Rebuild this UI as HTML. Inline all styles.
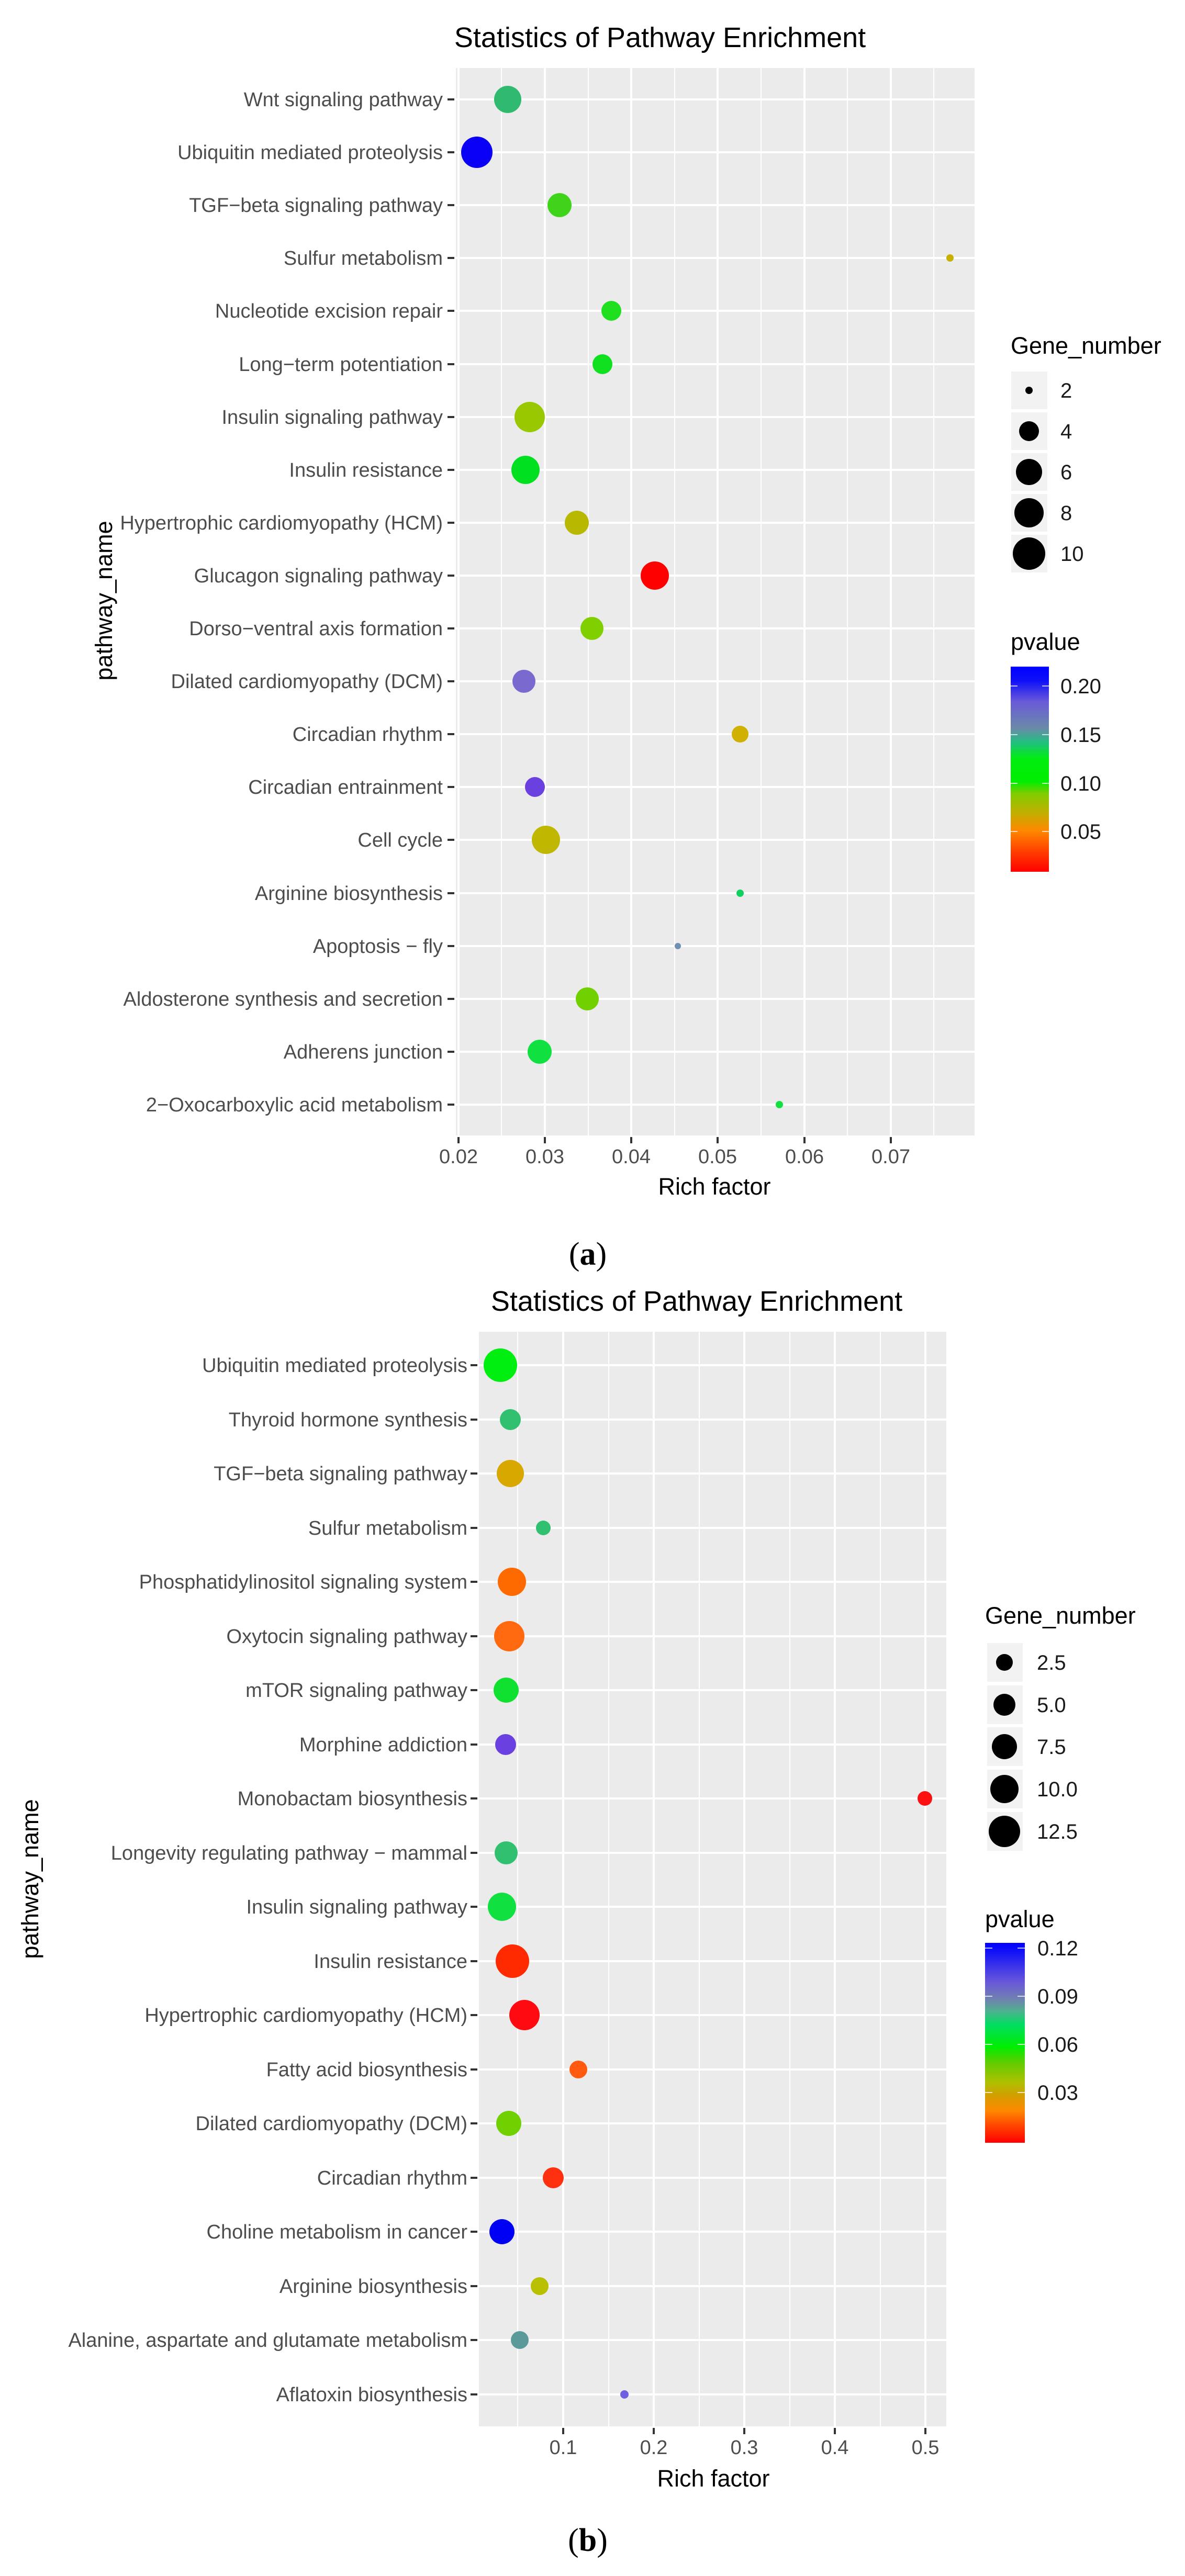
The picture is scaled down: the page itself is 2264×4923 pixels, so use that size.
<!DOCTYPE html>
<html><head><meta charset="utf-8"><style>
html,body{margin:0;padding:0;background:#fff}
svg{display:block}
text{font-family:"Liberation Sans",sans-serif}
.yl{font-size:38px;fill:#4d4d4d;text-anchor:end}
.xl{font-size:38px;fill:#4d4d4d;text-anchor:middle}
.tt{font-size:54px;fill:#000;text-anchor:middle}
.at{font-size:45px;fill:#000;text-anchor:middle}
.lt{font-size:45px;fill:#000}
.ll{font-size:40px;fill:#1a1a1a}
.cap{font-family:"Liberation Serif",serif;font-size:62px;text-anchor:middle}
.gM{stroke:#fff;stroke-width:4}
.gm{stroke:#fff;stroke-width:2}
.tk{stroke:#333;stroke-width:4}
</style></head><body>
<svg width="2264" height="4923" viewBox="0 0 2264 4923" xmlns="http://www.w3.org/2000/svg">
<defs>
<linearGradient id="ga" x1="0" y1="0" x2="0" y2="1">
<stop offset="0" stop-color="#0000ff"/><stop offset="0.07" stop-color="#1010f8"/>
<stop offset="0.17" stop-color="#6a5ad8"/><stop offset="0.3" stop-color="#6a8aa8"/>
<stop offset="0.37" stop-color="#20c080"/><stop offset="0.45" stop-color="#00ee10"/>
<stop offset="0.56" stop-color="#00ee00"/><stop offset="0.62" stop-color="#80cc00"/>
<stop offset="0.71" stop-color="#c0b000"/><stop offset="0.8" stop-color="#ff8800"/>
<stop offset="0.9" stop-color="#ff4000"/><stop offset="1" stop-color="#ff0000"/>
</linearGradient>
<linearGradient id="gb" x1="0" y1="0" x2="0" y2="1">
<stop offset="0" stop-color="#0000ff"/><stop offset="0.04" stop-color="#1010f8"/>
<stop offset="0.2" stop-color="#6a5ad8"/><stop offset="0.28" stop-color="#7080b0"/>
<stop offset="0.34" stop-color="#50b090"/><stop offset="0.41" stop-color="#00dd60"/>
<stop offset="0.52" stop-color="#00ee00"/><stop offset="0.6" stop-color="#60cc00"/>
<stop offset="0.7" stop-color="#b0c000"/><stop offset="0.76" stop-color="#d0a000"/>
<stop offset="0.84" stop-color="#ff8800"/><stop offset="0.92" stop-color="#ff4000"/>
<stop offset="1" stop-color="#ff0000"/>
</linearGradient>
</defs>

<!-- ===== Chart A ===== -->
<text class="tt" x="1261" y="90">Statistics of Pathway Enrichment</text>
<rect x="871" y="130" width="991" height="2040" fill="#ebebeb"/>
<g class="gm">
<line x1="958" y1="130" x2="958" y2="2170"/><line x1="1124" y1="130" x2="1124" y2="2170"/>
<line x1="1289" y1="130" x2="1289" y2="2170"/><line x1="1454" y1="130" x2="1454" y2="2170"/>
<line x1="1619" y1="130" x2="1619" y2="2170"/><line x1="1784" y1="130" x2="1784" y2="2170"/>
</g>
<g class="gM">
<line x1="876" y1="130" x2="876" y2="2170"/><line x1="1041" y1="130" x2="1041" y2="2170"/>
<line x1="1206" y1="130" x2="1206" y2="2170"/><line x1="1371" y1="130" x2="1371" y2="2170"/>
<line x1="1537" y1="130" x2="1537" y2="2170"/><line x1="1702" y1="130" x2="1702" y2="2170"/>
<line x1="871" y1="190" x2="1862" y2="190"/><line x1="871" y1="291" x2="1862" y2="291"/>
<line x1="871" y1="392" x2="1862" y2="392"/><line x1="871" y1="493" x2="1862" y2="493"/>
<line x1="871" y1="594" x2="1862" y2="594"/><line x1="871" y1="696" x2="1862" y2="696"/>
<line x1="871" y1="797" x2="1862" y2="797"/><line x1="871" y1="898" x2="1862" y2="898"/>
<line x1="871" y1="999" x2="1862" y2="999"/><line x1="871" y1="1100" x2="1862" y2="1100"/>
<line x1="871" y1="1201" x2="1862" y2="1201"/><line x1="871" y1="1302" x2="1862" y2="1302"/>
<line x1="871" y1="1403" x2="1862" y2="1403"/><line x1="871" y1="1504" x2="1862" y2="1504"/>
<line x1="871" y1="1605" x2="1862" y2="1605"/><line x1="871" y1="1707" x2="1862" y2="1707"/>
<line x1="871" y1="1808" x2="1862" y2="1808"/><line x1="871" y1="1909" x2="1862" y2="1909"/>
<line x1="871" y1="2010" x2="1862" y2="2010"/><line x1="871" y1="2111" x2="1862" y2="2111"/>
</g>
<g class="tk">
<line x1="855" y1="190" x2="868" y2="190"/><line x1="855" y1="291" x2="868" y2="291"/>
<line x1="855" y1="392" x2="868" y2="392"/><line x1="855" y1="493" x2="868" y2="493"/>
<line x1="855" y1="594" x2="868" y2="594"/><line x1="855" y1="696" x2="868" y2="696"/>
<line x1="855" y1="797" x2="868" y2="797"/><line x1="855" y1="898" x2="868" y2="898"/>
<line x1="855" y1="999" x2="868" y2="999"/><line x1="855" y1="1100" x2="868" y2="1100"/>
<line x1="855" y1="1201" x2="868" y2="1201"/><line x1="855" y1="1302" x2="868" y2="1302"/>
<line x1="855" y1="1403" x2="868" y2="1403"/><line x1="855" y1="1504" x2="868" y2="1504"/>
<line x1="855" y1="1605" x2="868" y2="1605"/><line x1="855" y1="1707" x2="868" y2="1707"/>
<line x1="855" y1="1808" x2="868" y2="1808"/><line x1="855" y1="1909" x2="868" y2="1909"/>
<line x1="855" y1="2010" x2="868" y2="2010"/><line x1="855" y1="2111" x2="868" y2="2111"/>
<line x1="876" y1="2173" x2="876" y2="2185"/><line x1="1041" y1="2173" x2="1041" y2="2185"/>
<line x1="1206" y1="2173" x2="1206" y2="2185"/><line x1="1371" y1="2173" x2="1371" y2="2185"/>
<line x1="1537" y1="2173" x2="1537" y2="2185"/><line x1="1702" y1="2173" x2="1702" y2="2185"/>
</g>
<g class="yl">
<text x="846" y="203">Wnt signaling pathway</text>
<text x="846" y="304">Ubiquitin mediated proteolysis</text>
<text x="846" y="405">TGF−beta signaling pathway</text>
<text x="846" y="506">Sulfur metabolism</text>
<text x="846" y="607">Nucleotide excision repair</text>
<text x="846" y="709">Long−term potentiation</text>
<text x="846" y="810">Insulin signaling pathway</text>
<text x="846" y="911">Insulin resistance</text>
<text x="846" y="1012">Hypertrophic cardiomyopathy (HCM)</text>
<text x="846" y="1113">Glucagon signaling pathway</text>
<text x="846" y="1214">Dorso−ventral axis formation</text>
<text x="846" y="1315">Dilated cardiomyopathy (DCM)</text>
<text x="846" y="1416">Circadian rhythm</text>
<text x="846" y="1517">Circadian entrainment</text>
<text x="846" y="1618">Cell cycle</text>
<text x="846" y="1720">Arginine biosynthesis</text>
<text x="846" y="1821">Apoptosis − fly</text>
<text x="846" y="1922">Aldosterone synthesis and secretion</text>
<text x="846" y="2023">Adherens junction</text>
<text x="846" y="2124">2−Oxocarboxylic acid metabolism</text>
</g>
<g class="xl">
<text x="876" y="2223">0.02</text><text x="1041" y="2223">0.03</text>
<text x="1206" y="2223">0.04</text><text x="1371" y="2223">0.05</text>
<text x="1537" y="2223">0.06</text><text x="1702" y="2223">0.07</text>
</g>
<text class="at" x="1365" y="2283">Rich factor</text>
<text class="at" transform="translate(214,1148) rotate(-90)">pathway_name</text>
<g>
<circle cx="970" cy="190" r="26" fill="#2fba6f"/>
<circle cx="911" cy="291" r="30" fill="#0a00f5"/>
<circle cx="1069" cy="392" r="23" fill="#3fd41a"/>
<circle cx="1815" cy="493" r="7" fill="#c8b000"/>
<circle cx="1168" cy="594" r="19" fill="#1ee01e"/>
<circle cx="1151" cy="696" r="19" fill="#10e020"/>
<circle cx="1012" cy="797" r="29" fill="#99c800"/>
<circle cx="1004" cy="898" r="27" fill="#00e020"/>
<circle cx="1102" cy="999" r="23" fill="#b8b800"/>
<circle cx="1251" cy="1100" r="27" fill="#ff0000"/>
<circle cx="1131" cy="1201" r="22" fill="#80d000"/>
<circle cx="1001" cy="1302" r="22" fill="#7a6ad0"/>
<circle cx="1414" cy="1403" r="16" fill="#d0b000"/>
<circle cx="1022" cy="1504" r="19" fill="#6a40e0"/>
<circle cx="1043" cy="1605" r="27" fill="#c0b800"/>
<circle cx="1414" cy="1707" r="7" fill="#10d060"/>
<circle cx="1295" cy="1808" r="6" fill="#7090b0"/>
<circle cx="1122" cy="1909" r="22" fill="#70d000"/>
<circle cx="1031" cy="2010" r="23" fill="#10e040"/>
<circle cx="1489" cy="2111" r="7" fill="#10e040"/>
</g>
<!-- legend A -->
<text class="lt" x="1931" y="676">Gene_number</text>
<g fill="#f2f2f2">
<rect x="1932" y="710" width="69" height="72"/><rect x="1932" y="788" width="69" height="72"/>
<rect x="1932" y="866" width="69" height="72"/><rect x="1932" y="944" width="69" height="72"/>
<rect x="1932" y="1022" width="69" height="72"/>
</g>
<g fill="#000">
<circle cx="1966" cy="746" r="7"/><circle cx="1966" cy="824" r="19"/>
<circle cx="1966" cy="902" r="25"/><circle cx="1966" cy="980" r="28"/>
<circle cx="1966" cy="1058" r="31"/>
</g>
<g class="ll">
<text x="2026" y="760">2</text><text x="2026" y="838">4</text><text x="2026" y="916">6</text>
<text x="2026" y="994">8</text><text x="2026" y="1072">10</text>
</g>
<text class="lt" x="1931" y="1242">pvalue</text>
<rect x="1931" y="1274" width="73" height="392" fill="url(#ga)"/>
<g stroke="#fff" stroke-width="2" opacity="0.7">
<line x1="1931" y1="1311" x2="1944" y2="1311"/><line x1="1991" y1="1311" x2="2004" y2="1311"/>
<line x1="1931" y1="1404" x2="1944" y2="1404"/><line x1="1991" y1="1404" x2="2004" y2="1404"/>
<line x1="1931" y1="1497" x2="1944" y2="1497"/><line x1="1991" y1="1497" x2="2004" y2="1497"/>
<line x1="1931" y1="1589" x2="1944" y2="1589"/><line x1="1991" y1="1589" x2="2004" y2="1589"/>
</g>
<g class="ll">
<text x="2026" y="1325">0.20</text><text x="2026" y="1418">0.15</text>
<text x="2026" y="1511">0.10</text><text x="2026" y="1603">0.05</text>
</g>
<text class="cap" x="1123" y="2417">(<tspan font-weight="bold">a</tspan>)</text>

<!-- ===== Chart B ===== -->
<text class="tt" x="1331" y="2505">Statistics of Pathway Enrichment</text>
<rect x="915" y="2545" width="893" height="2092" fill="#ebebeb"/>
<g class="gm">
<line x1="989" y1="2545" x2="989" y2="4637"/><line x1="1163" y1="2545" x2="1163" y2="4637"/>
<line x1="1336" y1="2545" x2="1336" y2="4637"/><line x1="1509" y1="2545" x2="1509" y2="4637"/>
<line x1="1682" y1="2545" x2="1682" y2="4637"/>
</g>
<g class="gM">
<line x1="1076" y1="2545" x2="1076" y2="4637"/><line x1="1249" y1="2545" x2="1249" y2="4637"/>
<line x1="1422" y1="2545" x2="1422" y2="4637"/><line x1="1595" y1="2545" x2="1595" y2="4637"/>
<line x1="1768" y1="2545" x2="1768" y2="4637"/>
<line x1="915" y1="2609" x2="1808" y2="2609"/><line x1="915" y1="2713" x2="1808" y2="2713"/>
<line x1="915" y1="2816" x2="1808" y2="2816"/><line x1="915" y1="2920" x2="1808" y2="2920"/>
<line x1="915" y1="3023" x2="1808" y2="3023"/><line x1="915" y1="3127" x2="1808" y2="3127"/>
<line x1="915" y1="3230" x2="1808" y2="3230"/><line x1="915" y1="3334" x2="1808" y2="3334"/>
<line x1="915" y1="3437" x2="1808" y2="3437"/><line x1="915" y1="3541" x2="1808" y2="3541"/>
<line x1="915" y1="3644" x2="1808" y2="3644"/><line x1="915" y1="3748" x2="1808" y2="3748"/>
<line x1="915" y1="3851" x2="1808" y2="3851"/><line x1="915" y1="3955" x2="1808" y2="3955"/>
<line x1="915" y1="4058" x2="1808" y2="4058"/><line x1="915" y1="4162" x2="1808" y2="4162"/>
<line x1="915" y1="4265" x2="1808" y2="4265"/><line x1="915" y1="4369" x2="1808" y2="4369"/>
<line x1="915" y1="4472" x2="1808" y2="4472"/><line x1="915" y1="4576" x2="1808" y2="4576"/>
</g>
<g class="tk">
<line x1="899" y1="2609" x2="912" y2="2609"/><line x1="899" y1="2713" x2="912" y2="2713"/>
<line x1="899" y1="2816" x2="912" y2="2816"/><line x1="899" y1="2920" x2="912" y2="2920"/>
<line x1="899" y1="3023" x2="912" y2="3023"/><line x1="899" y1="3127" x2="912" y2="3127"/>
<line x1="899" y1="3230" x2="912" y2="3230"/><line x1="899" y1="3334" x2="912" y2="3334"/>
<line x1="899" y1="3437" x2="912" y2="3437"/><line x1="899" y1="3541" x2="912" y2="3541"/>
<line x1="899" y1="3644" x2="912" y2="3644"/><line x1="899" y1="3748" x2="912" y2="3748"/>
<line x1="899" y1="3851" x2="912" y2="3851"/><line x1="899" y1="3955" x2="912" y2="3955"/>
<line x1="899" y1="4058" x2="912" y2="4058"/><line x1="899" y1="4162" x2="912" y2="4162"/>
<line x1="899" y1="4265" x2="912" y2="4265"/><line x1="899" y1="4369" x2="912" y2="4369"/>
<line x1="899" y1="4472" x2="912" y2="4472"/><line x1="899" y1="4576" x2="912" y2="4576"/>
<line x1="1076" y1="4640" x2="1076" y2="4652"/><line x1="1249" y1="4640" x2="1249" y2="4652"/>
<line x1="1422" y1="4640" x2="1422" y2="4652"/><line x1="1595" y1="4640" x2="1595" y2="4652"/>
<line x1="1768" y1="4640" x2="1768" y2="4652"/>
</g>
<g class="yl">
<text x="893" y="2622">Ubiquitin mediated proteolysis</text>
<text x="893" y="2726">Thyroid hormone synthesis</text>
<text x="893" y="2829">TGF−beta signaling pathway</text>
<text x="893" y="2933">Sulfur metabolism</text>
<text x="893" y="3036">Phosphatidylinositol signaling system</text>
<text x="893" y="3140">Oxytocin signaling pathway</text>
<text x="893" y="3243">mTOR signaling pathway</text>
<text x="893" y="3347">Morphine addiction</text>
<text x="893" y="3450">Monobactam biosynthesis</text>
<text x="893" y="3554">Longevity regulating pathway − mammal</text>
<text x="893" y="3657">Insulin signaling pathway</text>
<text x="893" y="3761">Insulin resistance</text>
<text x="893" y="3864">Hypertrophic cardiomyopathy (HCM)</text>
<text x="893" y="3968">Fatty acid biosynthesis</text>
<text x="893" y="4071">Dilated cardiomyopathy (DCM)</text>
<text x="893" y="4175">Circadian rhythm</text>
<text x="893" y="4278">Choline metabolism in cancer</text>
<text x="893" y="4382">Arginine biosynthesis</text>
<text x="893" y="4485">Alanine, aspartate and glutamate metabolism</text>
<text x="893" y="4589">Aflatoxin biosynthesis</text>
</g>
<g class="xl">
<text x="1076" y="4690">0.1</text><text x="1249" y="4690">0.2</text>
<text x="1422" y="4690">0.3</text><text x="1595" y="4690">0.4</text>
<text x="1768" y="4690">0.5</text>
</g>
<text class="at" x="1363" y="4752">Rich factor</text>
<text class="at" transform="translate(73,3591) rotate(-90)">pathway_name</text>
<g>
<circle cx="956" cy="2609" r="32" fill="#00ee10"/>
<circle cx="975" cy="2713" r="20" fill="#30c070"/>
<circle cx="975" cy="2816" r="26" fill="#d8a800"/>
<circle cx="1038" cy="2920" r="14" fill="#30c070"/>
<circle cx="978" cy="3023" r="27" fill="#ff6a00"/>
<circle cx="973" cy="3127" r="29" fill="#ff6a10"/>
<circle cx="967" cy="3230" r="24" fill="#10e030"/>
<circle cx="966" cy="3334" r="20" fill="#6a40e0"/>
<circle cx="1767" cy="3437" r="14" fill="#ff1010"/>
<circle cx="967" cy="3541" r="22" fill="#30c070"/>
<circle cx="959" cy="3644" r="27" fill="#10e040"/>
<circle cx="979" cy="3748" r="32" fill="#ff2a00"/>
<circle cx="1002" cy="3851" r="29" fill="#ff0a10"/>
<circle cx="1105" cy="3955" r="17" fill="#ff5a10"/>
<circle cx="972" cy="4058" r="24" fill="#70d000"/>
<circle cx="1057" cy="4162" r="20" fill="#ff3010"/>
<circle cx="959" cy="4265" r="24" fill="#0000f5"/>
<circle cx="1031" cy="4369" r="17" fill="#b8c000"/>
<circle cx="993" cy="4472" r="17" fill="#5a9a9a"/>
<circle cx="1193" cy="4576" r="8" fill="#7060e0"/>
</g>
<!-- legend B -->
<text class="lt" x="1882" y="3103">Gene_number</text>
<g fill="#f2f2f2">
<rect x="1886" y="3140" width="68" height="74"/><rect x="1886" y="3221" width="68" height="74"/>
<rect x="1886" y="3301" width="68" height="74"/><rect x="1886" y="3382" width="68" height="74"/>
<rect x="1886" y="3463" width="68" height="74"/>
</g>
<g fill="#000">
<circle cx="1919" cy="3177" r="16"/><circle cx="1919" cy="3258" r="21"/>
<circle cx="1919" cy="3338" r="24"/><circle cx="1919" cy="3419" r="27"/>
<circle cx="1919" cy="3500" r="30"/>
</g>
<g class="ll">
<text x="1981" y="3191">2.5</text><text x="1981" y="3272">5.0</text><text x="1981" y="3352">7.5</text>
<text x="1981" y="3433">10.0</text><text x="1981" y="3514">12.5</text>
</g>
<text class="lt" x="1882" y="3683">pvalue</text>
<rect x="1882" y="3713" width="76" height="382" fill="url(#gb)"/>
<g stroke="#fff" stroke-width="2" opacity="0.7">
<line x1="1882" y1="3723" x2="1896" y2="3723"/><line x1="1944" y1="3723" x2="1958" y2="3723"/>
<line x1="1882" y1="3815" x2="1896" y2="3815"/><line x1="1944" y1="3815" x2="1958" y2="3815"/>
<line x1="1882" y1="3907" x2="1896" y2="3907"/><line x1="1944" y1="3907" x2="1958" y2="3907"/>
<line x1="1882" y1="3999" x2="1896" y2="3999"/><line x1="1944" y1="3999" x2="1958" y2="3999"/>
</g>
<g class="ll">
<text x="1982" y="3737">0.12</text><text x="1982" y="3829">0.09</text>
<text x="1982" y="3921">0.06</text><text x="1982" y="4013">0.03</text>
</g>
<text class="cap" x="1123" y="4875">(<tspan font-weight="bold">b</tspan>)</text>
</svg>
</body></html>
